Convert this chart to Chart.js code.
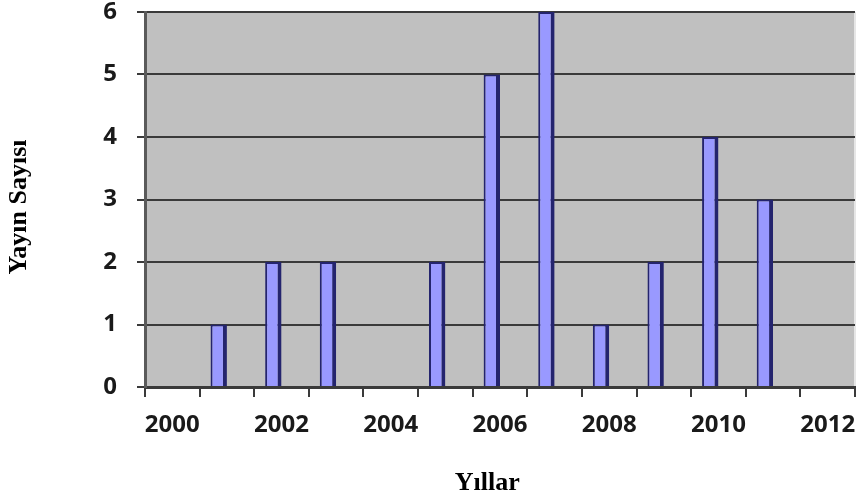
<!DOCTYPE html>
<html>
<head>
<meta charset="utf-8">
<script src="https://cdn.jsdelivr.net/npm/chart.js@4.4.0/dist/chart.umd.min.js"></script>
<style>
  html, body { margin: 0; padding: 0; background: #ffffff; }
  #wrap { width: 862px; height: 499px; position: relative; }
</style>
</head>
<body>
<div id="wrap"><canvas id="c" width="862" height="499"></canvas></div>
<script>
const years = ['2000','2001','2002','2003','2004','2005','2006','2007','2008','2009','2010','2011','2012'];
const publications = [0, 1, 2, 2, 0, 2, 5, 6, 1, 2, 4, 3, 0];
const spacer = [null, null, null, null, null, null, null, null, null, null, null, null, null];
const yTicks = [0, 1, 2, 3, 4, 5, 6];
const xTitle = 'Yıllar';
const yTitle = 'Yayın Sayısı';

const plotBg = {
  id: 'plotBg',
  beforeDraw(chart) {
    const { ctx, chartArea: a } = chart;
    ctx.save();
    ctx.fillStyle = '#c0c0c0';
    ctx.fillRect(a.left, a.top, a.right - a.left, a.bottom - a.top);
    ctx.strokeStyle = '#e6e6e6';
    ctx.lineWidth = 2;
    ctx.beginPath();
    ctx.moveTo(a.right, a.top);
    ctx.lineTo(a.right, a.bottom);
    ctx.stroke();
    ctx.restore();
  }
};

const axisTitles = {
  id: 'axisTitles',
  afterDraw(chart) {
    const { ctx, chartArea: a } = chart;
    ctx.save();
    ctx.fillStyle = '#000000';
    ctx.font = 'bold 26px "Liberation Serif"';
    ctx.textAlign = 'center';
    ctx.textBaseline = 'middle';
    ctx.fillText(xTitle, a.left + (a.right - a.left) * 0.482, a.bottom + 96);
    ctx.translate(19, a.top + (a.bottom - a.top) * 0.52);
    ctx.rotate(-Math.PI / 2);
    ctx.fillText(yTitle, 0, 0);
    ctx.restore();
  }
};

new Chart(document.getElementById('c'), {
  type: 'bar',
  data: {
    labels: years,
    datasets: [
      {
        label: yTitle,
        data: publications,
        backgroundColor: '#9999ff',
        borderColor: '#24246e',
        borderWidth: { left: 2, right: 4, top: 2, bottom: 0 },
        borderSkipped: false,
        categoryPercentage: 0.6,
        barPercentage: 1.0
      },
      {
        label: '',
        data: spacer,
        backgroundColor: 'rgba(0,0,0,0)',
        categoryPercentage: 0.6,
        barPercentage: 1.0
      }
    ]
  },
  options: {
    responsive: false,
    animation: false,
    devicePixelRatio: 1,
    layout: { padding: { left: 0, right: 7, top: 12, bottom: 0 } },
    plugins: { legend: { display: false }, tooltip: { enabled: false } },
    scales: {
      x: {
        type: 'category',
        offset: true,
        grid: { display: true, drawOnChartArea: false, drawTicks: true, tickLength: 10, color: '#3a3a3a', lineWidth: 2, offset: true },
        border: { display: true, color: '#3a3a3a', width: 3 },
        ticks: {
          autoSkip: false,
          maxRotation: 0,
          padding: 14,
          color: '#1a1a1a',
          font: { family: 'Open Sans', size: 24, weight: 'bold' },
          callback: function(v, i) { return i % 2 === 0 ? years[i] : ''; }
        },
        title: { display: false, text: xTitle },
        afterFit(scale) { scale.height = 112; scale.paddingLeft = 0; scale.paddingRight = 0; }
      },
      y: {
        min: 0,
        max: 6,
        afterBuildTicks(scale) { scale.ticks = yTicks.map(v => ({ value: v })); },
        grid: { color: '#3a3a3a', lineWidth: 2, drawTicks: true, tickLength: 8 },
        border: { display: true, color: '#5a5a5a', width: 3 },
        ticks: {
          padding: 20,
          color: '#1a1a1a',
          font: { family: 'Open Sans', size: 24, weight: 'bold' }
        },
        title: { display: false, text: yTitle },
        afterFit(scale) { scale.width = 145; scale.paddingTop = 0; scale.paddingBottom = 0; }
      }
    }
  },
  plugins: [plotBg, axisTitles]
});
</script>
</body>
</html>
